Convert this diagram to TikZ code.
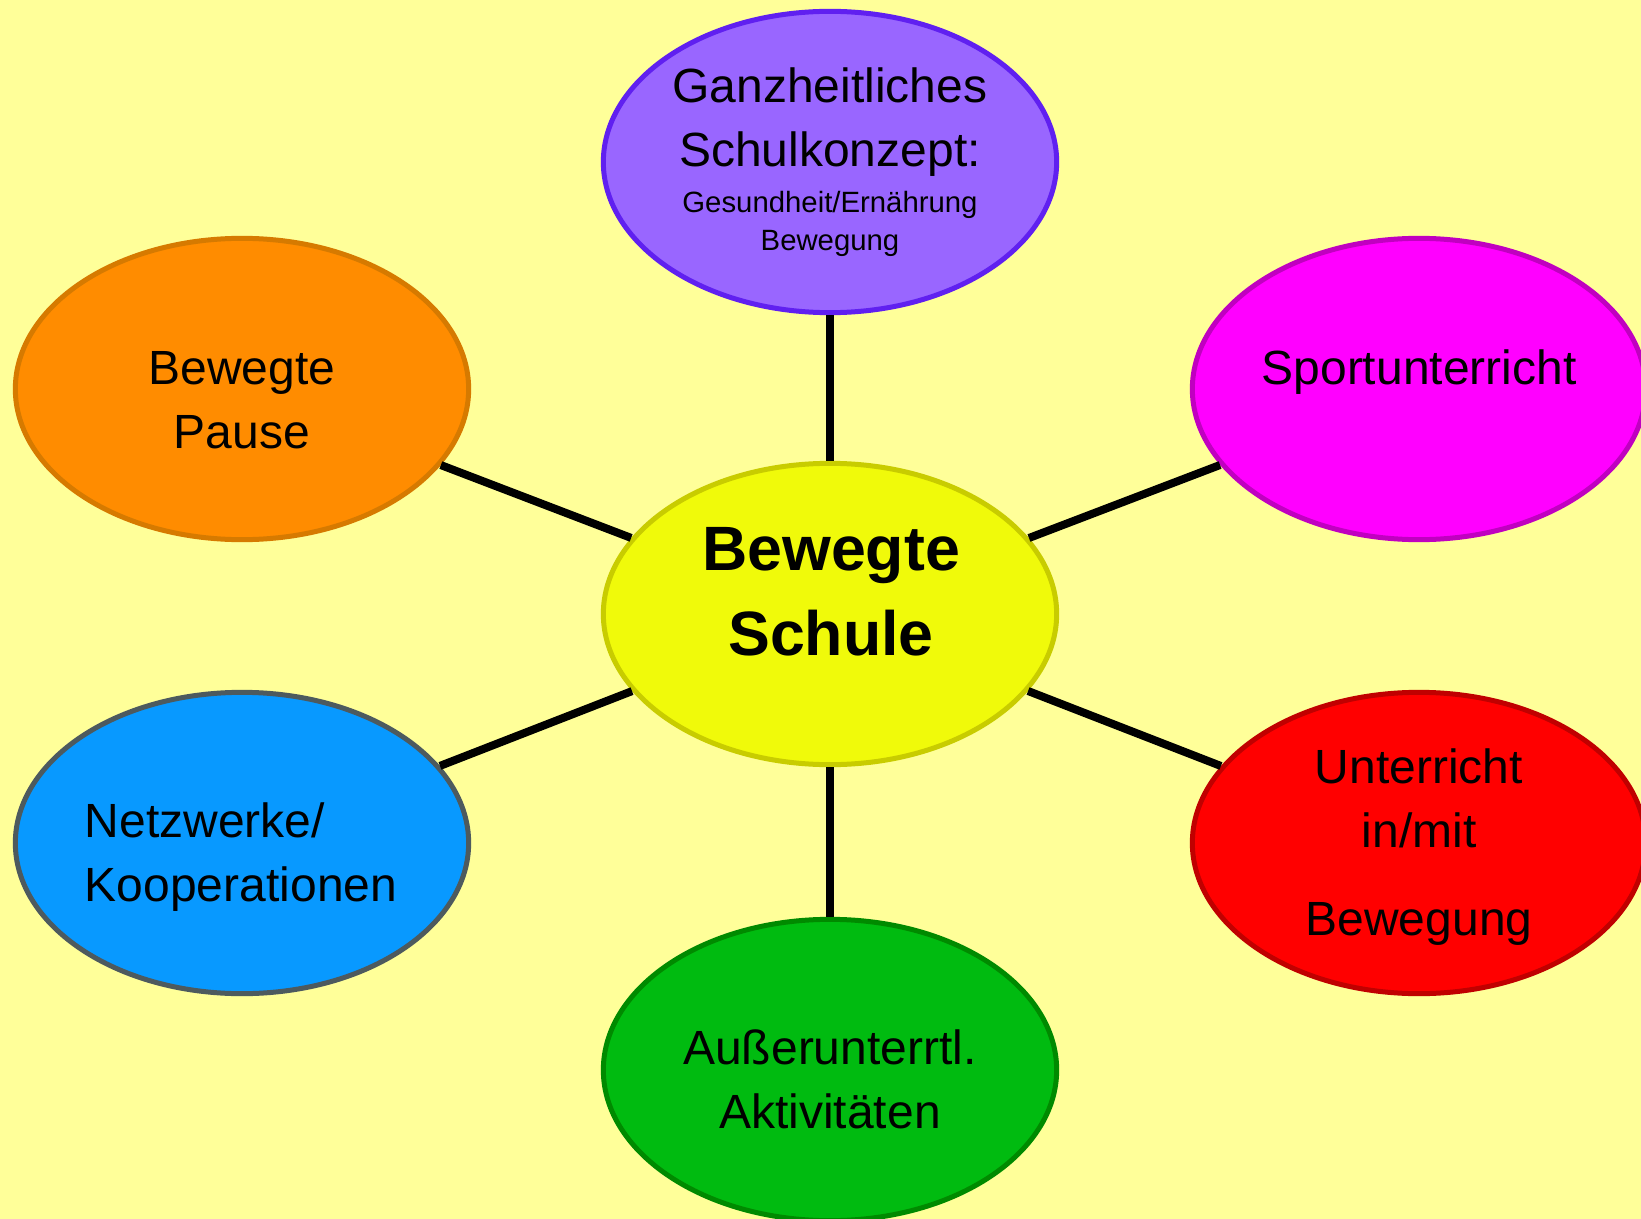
\documentclass[tikz,border=0pt]{standalone}
\usepackage{fontspec}
\setmainfont{Liberation Sans}
\usetikzlibrary{shapes.geometric}

\definecolor{bgyellow}{HTML}{FFFF99}
\definecolor{schulefill}{HTML}{F0FA0A}
\definecolor{schuledraw}{HTML}{C8CC00}
\definecolor{konzeptfill}{HTML}{9966FF}
\definecolor{konzeptdraw}{HTML}{6020F0}
\definecolor{pausefill}{HTML}{FF8C00}
\definecolor{pausedraw}{HTML}{D67A00}
\definecolor{sportfill}{HTML}{FF00FF}
\definecolor{sportdraw}{HTML}{C000C0}
\definecolor{netzfill}{HTML}{0899FF}
\definecolor{netzdraw}{HTML}{4D5A5E}
\definecolor{unterrichtfill}{HTML}{FF0000}
\definecolor{unterrichtdraw}{HTML}{C00000}
\definecolor{aktivfill}{HTML}{00BB10}
\definecolor{aktivdraw}{HTML}{008A00}

\begin{document}
\begin{tikzpicture}[x=0.75pt,y=-0.75pt]

      \fill[bgyellow] (0,0) rectangle (1641,1219);
      \useasboundingbox (0,0) rectangle (1641,1219);

      \begin{scope}[every node/.style={ellipse,line width=3.75pt,inner sep=0pt,
          minimum width=340pt,minimum height=226pt}]
        \node[fill=schulefill,draw=schuledraw] (schule) at (830,614) {};
        \node[fill=konzeptfill,draw=konzeptdraw] (konzept) at (830,162) {};
        \node[fill=pausefill,draw=pausedraw] (pause) at (242,389) {};
        \node[fill=sportfill,draw=sportdraw] (sport) at (1419,389) {};
        \node[fill=netzfill,draw=netzdraw] (netz) at (242,843) {};
        \node[fill=unterrichtfill,draw=unterrichtdraw] (unterricht) at (1419,843) {};
        \node[fill=aktivfill,draw=aktivdraw] (aktiv) at (830,1070) {};
      \end{scope}

      \begin{scope}[every edge/.style={draw=black,line width=6pt}]
        \path (schule) edge (konzept);
        \path (schule) edge (pause);
        \path (schule) edge (sport);
        \path (schule) edge (netz);
        \path (schule) edge (unterricht);
        \path (schule) edge (aktiv);
      \end{scope}

      \begin{scope}[every node/.style={align=center,inner sep=0pt,
          font=\fontsize{36}{48}\selectfont}]
        \node[font=\bfseries\fontsize{47}{64}\selectfont] (schuletext) at (831,592) {Bewegte\\Schule};
        \node (konzepttext) at (830,122) {Ganzheitliches\\Schulkonzept:};
        \node[font=\fontsize{22}{29}\selectfont] (konzeptsub) at (830,224) {Gesundheit/Ernährung\\Bewegung};
        \node (pausetext) at (242,400) {Bewegte\\Pause};
        \node (sporttext) at (1419,372) {Sportunterricht};
        \node[align=left] (netztext) at (241,857) {Netzwerke/\\Kooperationen};
        \node (unterrichttext) at (1419,847) {Unterricht\\in/mit\\[18pt]Bewegung};
        \node (aktivtext) at (830,1079) {Außerunterrtl.\\Aktivitäten};
      \end{scope}
    \end{tikzpicture}
\end{document}
